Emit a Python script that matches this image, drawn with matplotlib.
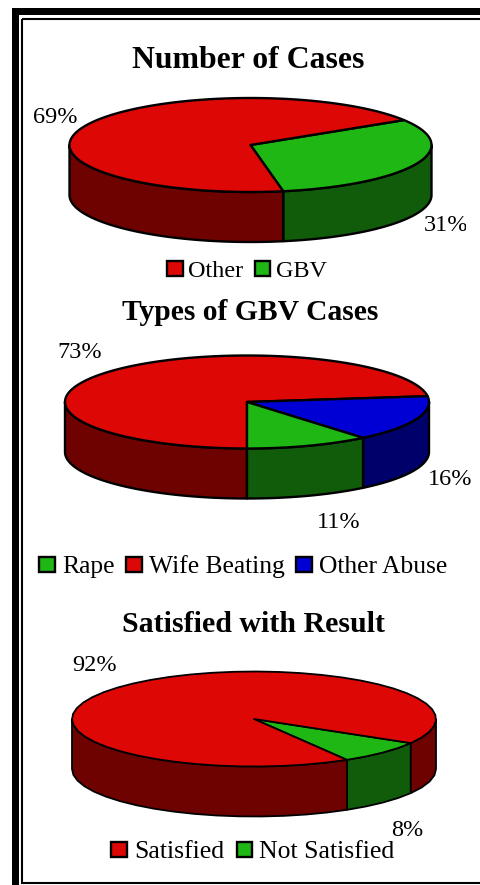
import matplotlib
matplotlib.use("Agg")
import matplotlib.pyplot as plt
import numpy as np
from matplotlib.patches import Polygon, Rectangle
from matplotlib.transforms import Bbox

plt.rcParams["font.family"] = ["Liberation Serif", "DejaVu Serif"]

TITLES = ["Number of Cases", "Types of GBV Cases", "Satisfied with Result"]

CASE_LABELS = ["GBV", "Other"]
CASE_VALUES = [31, 69]

TYPE_LABELS = ["Wife Beating", "Other Abuse", "Rape"]
TYPE_VALUES = [73, 16, 11]

RESULT_LABELS = ["Not Satisfied", "Satisfied"]
RESULT_VALUES = [8, 92]

RED = "#DD0806"
GREEN = "#1FB714"
BLUE = "#0000D4"
SIDE = {RED: "#6E0200", GREEN: "#115C0A", BLUE: "#00006A"}
COLOURS = {"GBV": GREEN, "Other": RED, "Wife Beating": RED, "Other Abuse": BLUE,
           "Rape": GREEN, "Not Satisfied": GREEN, "Satisfied": RED}


def ellipse_pts(cx, cy, rx, ry, a0, a1, step=1.0):
    n = max(2, int(abs(a1 - a0) / step) + 1)
    t = np.radians(np.linspace(a0, a1, n))
    return np.column_stack([cx + rx * np.cos(t), cy - ry * np.sin(t)])


def draw_pie(ax, values, labels, cx, cy, rx, ry, depth, start, lw, step=1.0):
    # slices run clockwise from start, angles in degrees on the flat disc
    fracs = np.array(values, dtype=float) / sum(values) * 360
    edges = start - np.concatenate([[0], np.cumsum(fracs)])

    # walls: only the part of each slice on the front half of the disc
    for a_hi, a_lo, lab in zip(edges[:-1], edges[1:], labels):
        for k in (-2, -1, 0, 1):
            hi = min(a_hi, 360 * k)
            lo = max(a_lo, 360 * k - 180)
            if hi <= lo:
                continue
            top = ellipse_pts(cx, cy, rx, ry, lo, hi, step)
            bot = top[::-1] + [0, depth]
            ax.add_patch(Polygon(np.vstack([top, bot]), closed=True,
                                 facecolor=SIDE[COLOURS[lab]], edgecolor="black",
                                 linewidth=lw, joinstyle="round"))

    # top face
    for a_hi, a_lo, lab in zip(edges[:-1], edges[1:], labels):
        arc = ellipse_pts(cx, cy, rx, ry, a_lo, a_hi, step)
        ax.add_patch(Polygon(np.vstack([[cx, cy], arc]), closed=True,
                             facecolor=COLOURS[lab], edgecolor="black",
                             linewidth=lw, joinstyle="round"))


def draw_legend(ax, items, baseline, size):
    for name, sx, tx in items:
        ax.add_patch(Rectangle((sx, baseline - 16.5), 15.5, 15.5, facecolor=COLOURS[name],
                               edgecolor="black", linewidth=1.7))
        ax.text(tx, baseline, name, fontsize=size, ha="left", va="baseline")


fig = plt.figure(figsize=(4.81, 8.85), dpi=100)
ax = fig.add_axes([0, 0, 1, 1])
ax.set_xlim(0, 481)
ax.set_ylim(885, 0)
ax.axis("off")

# page frame
ax.add_patch(Rectangle((12, 8), 7, 877, facecolor="black", edgecolor="none"))
ax.add_patch(Rectangle((12, 8), 469, 7, facecolor="black", edgecolor="none"))
ax.add_patch(Rectangle((22.3, 18.5), 480, 864, facecolor="none", edgecolor="black", linewidth=1.5))

draw_pie(ax, CASE_VALUES, CASE_LABELS, 250.5, 145, 181, 47, 50, 32, 1.7)
draw_pie(ax, TYPE_VALUES, TYPE_LABELS, 247, 402, 182, 46.5, 50, -90, 1.7)
draw_pie(ax, RESULT_VALUES, RESULT_LABELS, 254, 719, 182, 47.5, 50, -30.5, 1.3, step=7)

ax.text(248.5, 68, TITLES[0], fontsize=22.9, fontweight="bold", ha="center", va="baseline")
ax.text(250, 320, TITLES[1], fontsize=21.3, fontweight="bold", ha="center", va="baseline")
ax.text(254, 632, TITLES[2], fontsize=21.5, fontweight="bold", ha="center", va="baseline")

draw_legend(ax, [("Other", 167.5, 188), ("GBV", 255, 276)], 277, 17.4)
draw_legend(ax, [("Rape", 39.5, 62), ("Wife Beating", 126.5, 149), ("Other Abuse", 296.5, 319)], 573, 18.4)
draw_legend(ax, [("Satisfied", 111.5, 134), ("Not Satisfied", 237, 259)], 858, 18.5)

pct = [("69%", 33, 123), ("31%", 424, 231), ("73%", 57, 358), ("16%", 428, 485),
       ("11%", 317, 528), ("92%", 72, 671), ("8%", 391, 836)]
for s, x, y in pct:
    t = ax.text(x, y, s, fontsize=17.5, ha="left", va="baseline")
    if s == "31%":
        # the label is cut off at the plot edge in the source
        t.set_clip_box(Bbox([[0, 0], [466, 885]]))
        t.set_clip_on(True)

fig.savefig("out.png", dpi=100)
